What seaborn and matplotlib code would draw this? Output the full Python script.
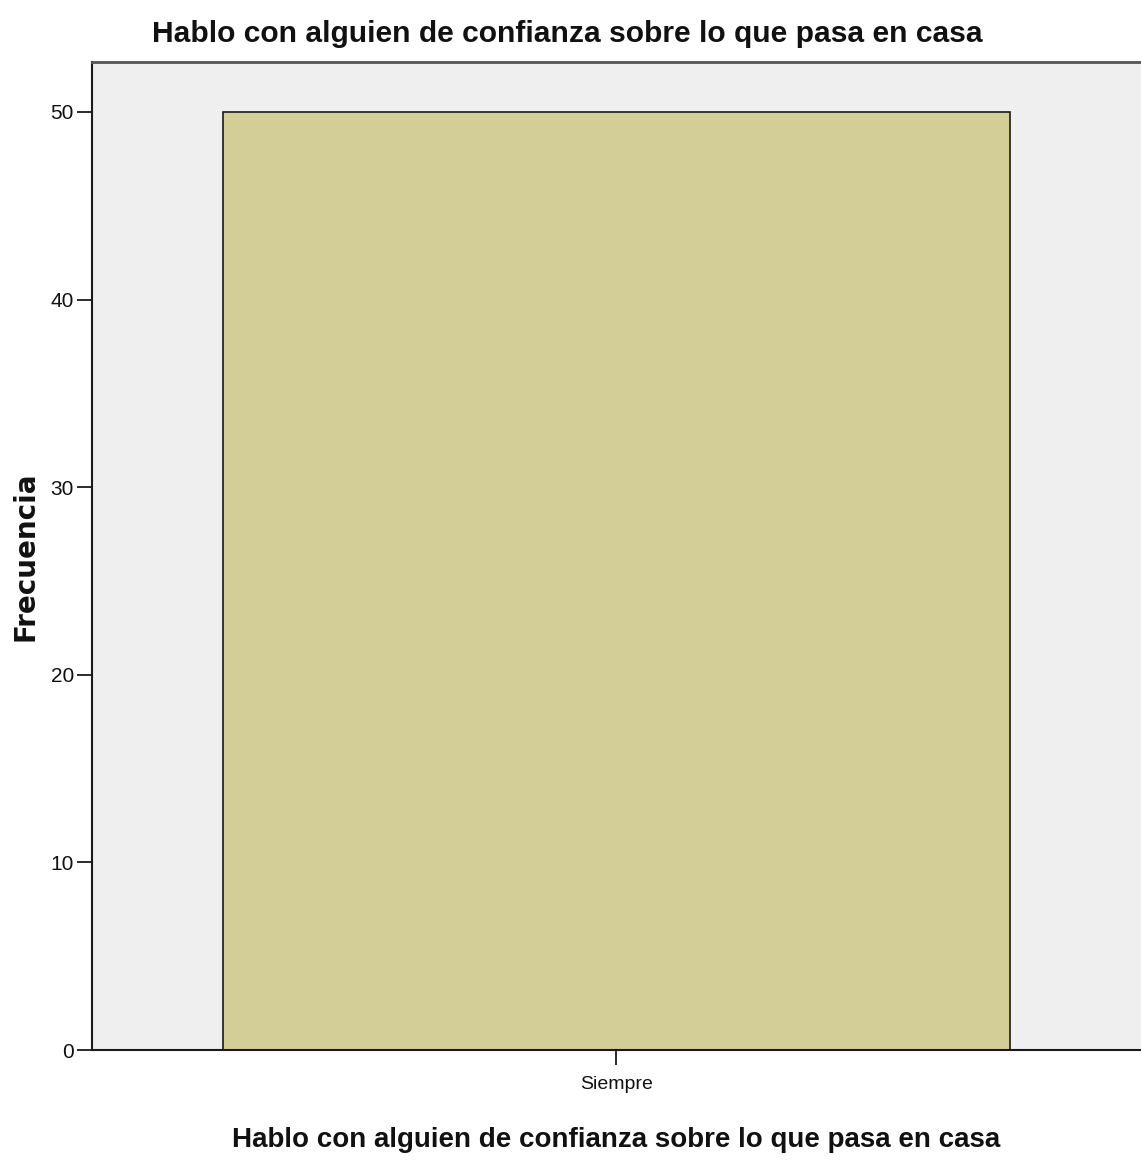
import pandas as pd
import numpy as np
import matplotlib
matplotlib.use("Agg")
import matplotlib.pyplot as plt
import seaborn as sns

# Datos
categorias = ["Siempre"]
frecuencias = [50]
titulo = "Hablo con alguien de confianza sobre lo que pasa en casa"

df = pd.DataFrame({"respuesta": categorias, "frecuencia": frecuencias})

sns.set_style("white")
plt.rcParams['font.family'] = ['Liberation Sans Narrow', 'Liberation Sans', 'DejaVu Sans']

fig = plt.figure(figsize=(11.41, 11.68), dpi=100)
ax = fig.add_axes([0.0806, 0.101, 0.9194, 0.846])
ax.set_facecolor("#efefef")

sns.barplot(data=df, x="respuesta", y="frecuencia", color="#d3ce97",
            edgecolor="#1a1a1a", linewidth=1.2, width=0.75, saturation=1, ax=ax)

ax.set_xlim(-0.5, 0.5)
ax.set_ylim(0, 52.67)
ax.set_yticks([0, 10, 20, 30, 40, 50])

for lado in ["left", "bottom"]:
    ax.spines[lado].set_color("#1a1a1a")
    ax.spines[lado].set_linewidth(1.5)
ax.spines["top"].set_color("#555555")
ax.spines["top"].set_linewidth(2)
ax.spines["right"].set_visible(False)

ax.tick_params(axis="both", direction="out", length=11, width=1.3, color="#1a1a1a",
               labelsize=15, pad=2, left=True, bottom=True, labelcolor="#111111")
ax.tick_params(axis="x", labelsize=14, pad=8)

ax.set_ylabel("Frecuencia", fontsize=20, fontweight="bold",
              family=["DejaVu Sans"], color="#111111")
ax.yaxis.set_label_coords(-0.0496, 0.5)
ax.set_xlabel(titulo, fontsize=20, fontweight="bold", labelpad=24, color="#111111")
fig.suptitle(titulo, fontsize=21.6, fontweight="bold", y=0.983, x=0.4975, color="#111111")

fig.savefig("out.png", dpi=100)
